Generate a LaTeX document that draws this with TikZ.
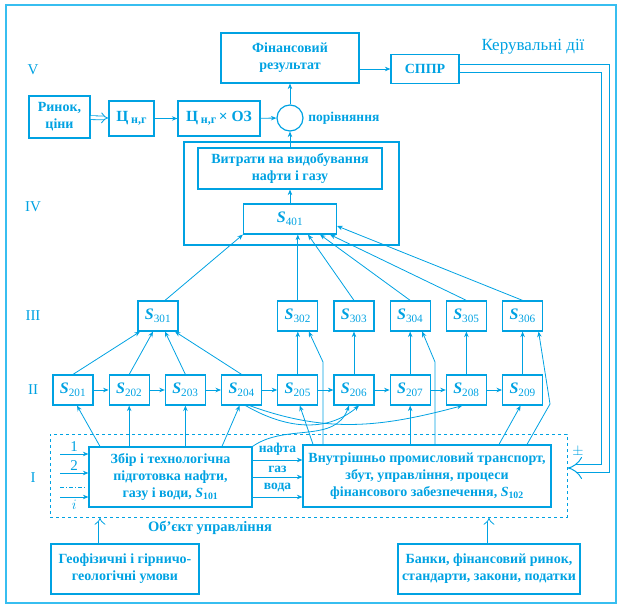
\documentclass[tikz,border=0pt]{standalone}
\usepackage{fontspec}
\setmainfont{Liberation Serif}
\usepackage{amssymb}
\usepackage{amsmath}
\usepackage{xcolor}
\usepackage{tikz}
\usetikzlibrary{arrows.meta}
\definecolor{syn}{RGB}{0,162,226}
\definecolor{ramka}{RGB}{55,190,240}
\newcommand{\Sn}[1]{\textbf{\textit{S}}\textsubscript{#1}}

\begin{document}
\begin{tikzpicture}[->,>={Stealth[length=5.5pt,width=4.5pt]},x=1pt,y=-1pt,
   node distance=56.2pt,thick,color=syn,
   blok/.style={draw,line width=1.2pt,align=center,inner sep=1pt,font=\bfseries\fontsize{14}{17}\selectfont},
   mala/.style={draw,line width=1.2pt,minimum width=40pt,minimum height=30pt,inner sep=0pt,font=\fontsize{16}{17}\selectfont},
   riven/.style={font=\fontsize{15}{16}\selectfont},
   potik/.style={font=\bfseries\fontsize{13.5}{15}\selectfont},
   podviyna/.style={double=white,double distance=3pt,-{Implies}}]

  \useasboundingbox (0,0) rectangle (618,607);
  \draw[-,ramka,line width=2.5pt] (6,5) rectangle (616,603);

  % level V
  \node[blok,minimum width=138pt,minimum height=50pt](fin) at (290,58) {Фінансовий\\результат};
  \node[blok,minimum width=68pt,minimum height=29pt](sppr) at (425,69) {СППР};
  \node[riven,font=\fontsize{17}{18}\selectfont](kd) at (533,47) {Керувальні дії};
  \node[blok,minimum width=61pt,minimum height=42pt](rynok) at (59.5,117) {Ринок,\\ціни};
  \node[blok,minimum width=45pt,minimum height=35pt,font=\bfseries\fontsize{15.5}{17}\selectfont](tsng) at (131.5,118.5) {Ц\,\raisebox{-0.35ex}{\fontsize{12}{12}\selectfont н,г}};
  \node[blok,minimum width=82pt,minimum height=35pt,font=\bfseries\fontsize{15.5}{17}\selectfont](tsoz) at (219,118.5) {Ц\,\raisebox{-0.35ex}{\fontsize{12}{12}\selectfont н,г}\,× ОЗ};
  \node[draw,circle,line width=1.2pt,minimum size=26pt,inner sep=0pt,
        label={[potik,label distance=1pt]right:порівняння}](por) at (290,118) {};

  % level IV
  \node[draw,line width=1.2pt,minimum width=215pt,minimum height=103pt](iv) at (291.5,193.5) {};
  \node[blok,minimum width=184pt,minimum height=41pt](vytr) at (290,168.5) {Витрати на видобування\\нафти і газу};
  \node[mala,minimum width=93pt](s401) at (290,219) {\Sn{401}};

  % levels III and II
  \node[mala](s301) at (158,316) {\Sn{301}};
  \node[mala](s201) at (73,390) {\Sn{201}};
  \node[mala](s202) [right of=s201] {\Sn{202}};
  \node[mala](s203) [right of=s202] {\Sn{203}};
  \node[mala](s204) [right of=s203] {\Sn{204}};
  \node[mala](s205) [right of=s204] {\Sn{205}};
  \node[mala](s206) [right of=s205] {\Sn{206}};
  \node[mala](s207) [right of=s206] {\Sn{207}};
  \node[mala](s208) [right of=s207] {\Sn{208}};
  \node[mala](s209) [right of=s208] {\Sn{209}};
  \node[mala](s302) at (s205 |- s301) {\Sn{302}};
  \node[mala](s303) at (s206 |- s301) {\Sn{303}};
  \node[mala](s304) at (s207 |- s301) {\Sn{304}};
  \node[mala](s305) at (s208 |- s301) {\Sn{305}};
  \node[mala](s306) at (s209 |- s301) {\Sn{306}};

  % level I
  \node[draw,dashed,line width=1pt,minimum width=517pt,minimum height=83pt](obj) at (308.5,475.5) {};
  \node[blok,minimum width=163pt,minimum height=60pt](zbir) at (170.5,477) {Збір і технологічна\\підготовка нафти,\\газу і води, \Sn{101}};
  \node[blok,minimum width=248pt,minimum height=62pt](vnutr) at (427,476) {Внутрішньо промисловий транспорт,\\збут, управління, процеси\\фінансового забезпечення, \Sn{102}};
  \node[potik,font=\bfseries\fontsize{14.5}{16}\selectfont](objnazva) at (210,528) {Об’єкт управління};
  \node[blok,minimum width=148pt,minimum height=50pt](geo) at (125,569) {Геофізичні і гірничо-\\геологічні умови};
  \node[blok,minimum width=182pt,minimum height=50pt](banky) at (489,569) {Банки, фінансовий ринок,\\стандарти, закони, податки};
  \node[riven](pm) at (578,452) {$\pm$};

  \node[riven](r5) at (33,70) {V};
  \node[riven](r4) at (33,207) {IV};
  \node[riven](r3) at (33,316) {III};
  \node[riven](r2) at (33,390) {II};
  \node[riven](r1) at (33,478) {I};

  \coordinate (vh1) at (60,454);
  \coordinate (vh2) at (60,473);
  \coordinate (vh3) at (60,487);
  \coordinate (vhi) at (60,497);
  \coordinate (z302) at (323,362);
  \coordinate (z304) at (435,362);
  \coordinate (z306) at (550,404);
  \coordinate (kz) at (605.5,468);

  % top connectors
  \draw[podviyna] (rynok) -- (tsng);
  \draw (tsng) -- (tsoz);
  \draw (tsoz) -- (por);
  \draw (s401) -- (vytr);
  \draw (vytr) -- (por);
  \draw (por) -- (fin);
  \draw (fin.east |- sppr) -- (sppr);
  \draw[line width=1pt,double=white,double distance=7pt,-{Implies}] (sppr.east) -| (kz) -- (kz -| obj.east);

  % III -> IV
  \draw ([xshift=7pt]s301.north) -- (s401.south west);
  \draw (s302.north) -- (s302.north |- s401.south);
  \draw (s303.north) -- ([xshift=18pt]s401.south);
  \draw (s304.north) -- ([xshift=30pt]s401.south);
  \draw (s305.north) -- ([xshift=40pt]s401.south);
  \draw (s306.north) -- ([yshift=-7pt]s401.east);

  % II -> III
  \draw (s201.north) -- ([xshift=-18pt]s301.south);
  \draw (s202.north) -- ([xshift=-5pt]s301.south);
  \draw (s203.north) -- ([xshift=7pt]s301.south);
  \draw (s204.north) -- ([xshift=17pt]s301.south);
  \foreach \from/\to in {s205/s302,s206/s303,s207/s304,s208/s305,s209/s306} \draw (\from) -- (\to);
  \foreach \from/\to in {s201/s202,s202/s203,s203/s204,s204/s205,s205/s206,s206/s207,s207/s208,s208/s209} \draw (\from) -- (\to);
  \draw ([xshift=4pt]s204.south) to[out=-30,in=-140] ([xshift=5pt]s206.south);
  \draw ([xshift=8pt]s204.south) to[out=-20,in=-165] ([xshift=-4pt]s208.south);

  % I -> II
  \draw ([xshift=-70.5pt]zbir.north) -- ([xshift=4pt]s201.south);
  \draw (s202 |- zbir.north) -- (s202.south);
  \draw (s203 |- zbir.north) -- (s203.south);
  \draw ([xshift=51.5pt]zbir.north) -- ([xshift=-2pt]s204.south);
  \draw (zbir.north east) to[out=35,in=-110] ([xshift=-5pt]s206.south);
  \draw ([xshift=-114pt]vnutr.north) -- ([xshift=2pt]s205.south);
  \draw (vnutr.north -| z302) -- (z302) -- ([xshift=11pt]s302.south);
  \draw (s207 |- vnutr.north) -- (s207.south);
  \draw (vnutr.north -| z304) -- (z304) -- ([xshift=12pt]s304.south);
  \draw ([xshift=72pt]vnutr.north) -- ([xshift=-2pt]s209.south);
  \draw ([xshift=100pt]vnutr.north) -- (z306) -- ([xshift=16pt]s306.south);

  % level I flows
  \draw (vh1) -- (vh1 -| zbir.west) node[riven,midway,above=-1pt]{1};
  \draw (vh2) -- (vh2 -| zbir.west) node[riven,midway,above=-1pt]{2};
  \draw[-,dash pattern=on 4pt off 2pt on 1pt off 2pt] (vh3) -- ([xshift=-3pt]vh3 -| zbir.west);
  \draw (vhi) -- (vhi -| zbir.west) node[riven,midway,below=-1pt]{$i$};
  \draw ([yshift=17pt]zbir.east) -- ([yshift=17pt]zbir.east -| vnutr.west) node[potik,midway,above=1pt]{нафта};
  \draw (zbir.east) -- (zbir.east -| vnutr.west) node[potik,midway,above=1pt]{газ};
  \draw ([yshift=-20pt]zbir.east) -- ([yshift=-20pt]zbir.east -| vnutr.west) node[potik,midway,above=1pt]{вода};
  \draw[podviyna] ([xshift=-25pt]geo.north) -- ([xshift=-25pt]geo.north |- obj.south);
  \draw[podviyna] (banky.north) -- (banky.north |- obj.south);
\end{tikzpicture}
\end{document}
